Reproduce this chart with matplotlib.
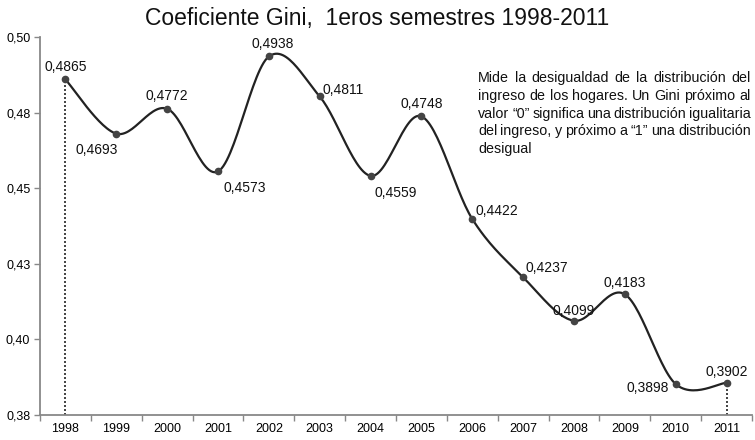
import matplotlib
matplotlib.use("Agg")
import matplotlib.pyplot as plt
import numpy as np

plt.rcParams['font.family'] = ['Liberation Sans', 'DejaVu Sans']

years = ['1998', '1999', '2000', '2001', '2002', '2003', '2004',
         '2005', '2006', '2007', '2008', '2009', '2010', '2011']
gini = [0.4865, 0.4693, 0.4772, 0.4573, 0.4938, 0.4811, 0.4559,
        0.4748, 0.4422, 0.4237, 0.4099, 0.4183, 0.3898, 0.3902]
# label offsets in points (dx, dy) and horizontal alignment
lab_pos = [(0, 9, 'center'), (-14, -12, 'center'), (0, 9, 'center'),
           (4, -12, 'left'), (3, 9, 'center'), (2, 5, 'left'),
           (3, -12, 'left'), (0, 9, 'center'), (2, 6, 'left'),
           (2, 7, 'left'), (0, 7, 'center'), (0, 8, 'center'),
           (-5, -3, 'right'), (0, 8, 'center')]
note_lines = [
    "Mide la desigualdad de la distribución del",
    "ingreso de los hogares. Un Gini próximo al",
    "valor “0” significa una distribución igualitaria",
    "del ingreso, y próximo a “1” una distribución",
    "desigual",
]


def smooth(x, y, n=30):
    # Catmull-Rom style smoothing (like a spreadsheet "smoothed line")
    x = np.asarray(x, float)
    y = np.asarray(y, float)
    px = np.concatenate([[x[0]], x, [x[-1]]])
    py = np.concatenate([[y[0]], y, [y[-1]]])
    xs, ys = [], []
    t = np.linspace(0, 1, n)
    for i in range(1, len(px) - 2):
        p0 = np.array([px[i], py[i]])
        p3 = np.array([px[i + 1], py[i + 1]])
        b1 = p0 + (p3 - np.array([px[i - 1], py[i - 1]])) / 6
        b2 = p3 - (np.array([px[i + 2], py[i + 2]]) - p0) / 6
        pts = ((1 - t)[:, None] ** 3 * p0 + 3 * ((1 - t) ** 2 * t)[:, None] * b1
               + 3 * ((1 - t) * t ** 2)[:, None] * b2 + (t ** 3)[:, None] * p3)
        xs.extend(pts[:, 0])
        ys.extend(pts[:, 1])
    return xs, ys


fig = plt.figure(figsize=(7.55, 4.40), dpi=100)
ax = fig.add_axes([0.053, 0.057, 0.943, 0.859])

x = np.arange(len(years))
sx, sy = smooth(x, gini)
ax.plot(sx, sy, color='#222222', lw=1.6, zorder=3)
ax.plot(x, gini, 'o', color='#444444', ms=4.5, zorder=4)

ax.plot([0, 0], [0.38, gini[0]], color='#222222', ls=(0, (1.2, 1.2)), lw=1.2)
ax.plot([13, 13], [0.38, gini[-1]], color='#222222', ls=(0, (1.2, 1.2)), lw=1.2)

for i, v in enumerate(gini):
    dx, dy, ha = lab_pos[i]
    ax.annotate(f"{v:.4f}".replace('.', ','), (i, v), xytext=(dx, dy),
                textcoords='offset points', ha=ha, va='center', fontsize=10,
                color='#111111')

ax.set_xlim(-0.5, 13.5)
ax.set_ylim(0.38, 0.50)
yt = np.linspace(0.38, 0.50, 6)
ax.set_yticks(yt)
ax.set_yticklabels([f"{v:.2f}".replace('.', ',') for v in yt], fontsize=9)
ax.set_xticks(x)
ax.set_xticklabels(years, fontsize=9)
ax.set_xticks(np.arange(-0.5, 14, 1), minor=True)
ax.tick_params(axis='x', which='major', length=0, pad=6)
ax.tick_params(axis='x', which='minor', length=4, color='#888888', width=1)
ax.tick_params(axis='y', length=4, color='#888888', width=1, pad=3)
for s in ['top', 'right']:
    ax.spines[s].set_visible(False)
for s in ['left', 'bottom']:
    ax.spines[s].set_color('#888888')
    ax.spines[s].set_linewidth(1.3)

fig.text(0.5, 0.958, "Coeficiente Gini,  1eros semestres 1998-2011",
         ha='center', va='center', fontsize=16.5, color='#111111')

# justified note text
renderer = fig.canvas.get_renderer()
left_px, right_px = 478, 751
y0_px, dy_px = 78, 17.8
for k, line in enumerate(note_lines):
    ypix = 440 - (y0_px + k * dy_px)
    words = line.split(' ')
    if k == len(note_lines) - 1:
        fig.text(left_px / 755, ypix / 440, line, fontsize=10.3,
                 ha='left', va='center', color='#111111')
        continue
    objs = [fig.text(0, ypix / 440, w, fontsize=10.3, ha='left',
                     va='center', color='#111111') for w in words]
    widths = [o.get_window_extent(renderer).width for o in objs]
    gap = (right_px - left_px - sum(widths)) / (len(words) - 1)
    xp = left_px
    for o, w in zip(objs, widths):
        o.set_x(xp / 755)
        xp += w + gap

fig.savefig('out.png', dpi=100)
